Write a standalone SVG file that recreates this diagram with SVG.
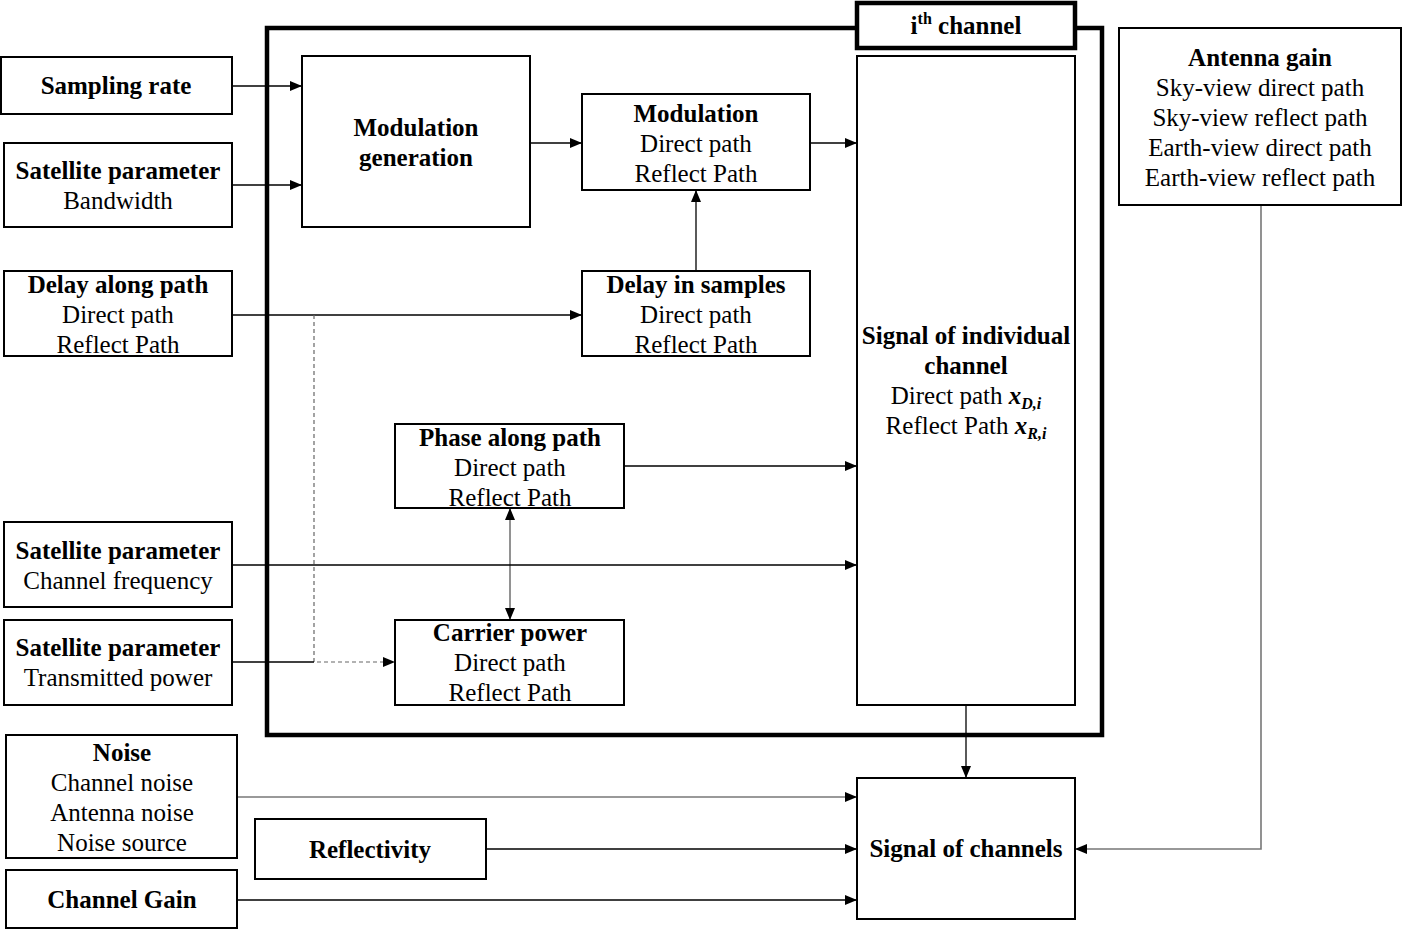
<svg xmlns="http://www.w3.org/2000/svg" width="1402" height="930" viewBox="0 0 1402 930">
<defs>
<style>
.box{fill:#fff;stroke:#000;stroke-width:2}
.thick{fill:none;stroke:#000;stroke-width:4.5}
text{font-family:"Liberation Serif","Times New Roman",serif;font-size:25px;fill:#000;text-anchor:middle}
.b{font-weight:bold}
.ln{fill:none;stroke:#000;stroke-width:1.3}
.gr{fill:none;stroke:#777;stroke-width:1.6}
.ds{fill:none;stroke:#666;stroke-width:1.2;stroke-dasharray:4 3}
</style>
<marker id="ar" viewBox="0 0 12 10" refX="12" refY="5" markerWidth="12" markerHeight="10" markerUnits="userSpaceOnUse" orient="auto-start-reverse">
<path d="M0,0 L12,5 L0,10 z" fill="#000"/>
</marker>
</defs>
<rect width="1402" height="930" fill="#fff"/>

<g id="frame">
<rect class="thick" x="267" y="28" width="835" height="707"/>
</g>
<g id="ith-channel">
<rect x="857" y="3" width="218" height="45" fill="#fff" stroke="#000" stroke-width="4.5"/>
<text class="b" x="966" y="34">i<tspan font-size="16" dy="-10">th</tspan><tspan dy="10"> channel</tspan></text>
</g>

<g id="connectors">
<line class="ln" x1="232" y1="86" x2="302" y2="86" marker-end="url(#ar)"/>
<line class="ln" x1="232" y1="185" x2="302" y2="185" marker-end="url(#ar)"/>
<line class="ln" x1="530" y1="143" x2="582" y2="143" marker-end="url(#ar)"/>
<line class="ln" x1="810" y1="143" x2="857" y2="143" marker-end="url(#ar)"/>
<line class="ln" x1="696" y1="271" x2="696" y2="190" marker-end="url(#ar)"/>
<line class="ln" x1="232" y1="315" x2="582" y2="315" marker-end="url(#ar)"/>
<polyline class="ds" points="314,315 314,662 395,662" marker-end="url(#ar)"/>
<line class="ln" x1="624" y1="466" x2="857" y2="466" marker-end="url(#ar)"/>
<line class="gr" x1="510" y1="508" x2="510" y2="620" marker-start="url(#ar)" marker-end="url(#ar)"/>
<line class="ln" x1="232" y1="565" x2="857" y2="565" marker-end="url(#ar)"/>
<line class="ln" x1="232" y1="662" x2="314" y2="662"/>
<line class="ln" x1="966" y1="705" x2="966" y2="778" marker-end="url(#ar)"/>
<line class="gr" x1="237" y1="797" x2="857" y2="797" marker-end="url(#ar)"/>
<line class="ln" x1="486" y1="849" x2="857" y2="849" marker-end="url(#ar)"/>
<line class="ln" x1="237" y1="900" x2="857" y2="900" marker-end="url(#ar)"/>
<polyline class="gr" points="1261,205 1261,849 1075,849" marker-end="url(#ar)"/>
</g>

<g id="sampling-rate">
<rect class="box" x="1" y="57" width="231" height="57"/>
<text class="b" x="116" y="94">Sampling rate</text>
</g>
<g id="sat-bandwidth">
<rect class="box" x="4" y="143" width="228" height="84"/>
<text class="b" x="118" y="179">Satellite parameter</text>
<text x="118" y="209">Bandwidth</text>
</g>
<g id="delay-along-path">
<rect class="box" x="4" y="271" width="228" height="85"/>
<text class="b" x="118" y="293">Delay along path</text>
<text x="118" y="323">Direct path</text>
<text x="118" y="353">Reflect Path</text>
</g>
<g id="sat-frequency">
<rect class="box" x="4" y="522" width="228" height="85"/>
<text class="b" x="118" y="559">Satellite parameter</text>
<text x="118" y="589">Channel frequency</text>
</g>
<g id="sat-power">
<rect class="box" x="4" y="620" width="228" height="85"/>
<text class="b" x="118" y="656">Satellite parameter</text>
<text x="118" y="686">Transmitted power</text>
</g>
<g id="noise">
<rect class="box" x="6" y="735" width="231" height="123"/>
<text class="b" x="122" y="761">Noise</text>
<text x="122" y="791">Channel noise</text>
<text x="122" y="821">Antenna noise</text>
<text x="122" y="851">Noise source</text>
</g>
<g id="channel-gain">
<rect class="box" x="6" y="870" width="231" height="58"/>
<text class="b" x="122" y="908">Channel Gain</text>
</g>
<g id="reflectivity">
<rect class="box" x="255" y="819" width="231" height="60"/>
<text class="b" x="370" y="858">Reflectivity</text>
</g>
<g id="modulation-generation">
<rect class="box" x="302" y="56" width="228" height="171"/>
<text class="b" x="416" y="136">Modulation</text>
<text class="b" x="416" y="166">generation</text>
</g>
<g id="modulation">
<rect class="box" x="582" y="94" width="228" height="96"/>
<text class="b" x="696" y="122">Modulation</text>
<text x="696" y="152">Direct path</text>
<text x="696" y="182">Reflect Path</text>
</g>
<g id="delay-in-samples">
<rect class="box" x="582" y="271" width="228" height="85"/>
<text class="b" x="696" y="293">Delay in samples</text>
<text x="696" y="323">Direct path</text>
<text x="696" y="353">Reflect Path</text>
</g>
<g id="phase-along-path">
<rect class="box" x="395" y="424" width="229" height="84"/>
<text class="b" x="510" y="446">Phase along path</text>
<text x="510" y="476">Direct path</text>
<text x="510" y="506">Reflect Path</text>
</g>
<g id="carrier-power">
<rect class="box" x="395" y="620" width="229" height="85"/>
<text class="b" x="510" y="641">Carrier power</text>
<text x="510" y="671">Direct path</text>
<text x="510" y="701">Reflect Path</text>
</g>
<g id="signal-individual">
<rect class="box" x="857" y="56" width="218" height="649"/>
<text class="b" x="966" y="344">Signal of individual</text>
<text class="b" x="966" y="374">channel</text>
<text x="966" y="404">Direct path <tspan font-weight="bold" font-style="italic">x</tspan><tspan font-weight="bold" font-style="italic" font-size="16" dy="5">D,i</tspan></text>
<text x="966" y="434">Reflect Path <tspan font-weight="bold" font-style="italic">x</tspan><tspan font-weight="bold" font-style="italic" font-size="16" dy="5">R,i</tspan></text>
</g>
<g id="antenna-gain">
<rect class="box" x="1119" y="28" width="282" height="177"/>
<text class="b" x="1260" y="66">Antenna gain</text>
<text x="1260" y="96">Sky-view direct path</text>
<text x="1260" y="126">Sky-view reflect path</text>
<text x="1260" y="156">Earth-view direct path</text>
<text x="1260" y="186">Earth-view reflect path</text>
</g>
<g id="signal-of-channels">
<rect class="box" x="857" y="778" width="218" height="141"/>
<text class="b" x="966" y="857">Signal of channels</text>
</g>
</svg>
